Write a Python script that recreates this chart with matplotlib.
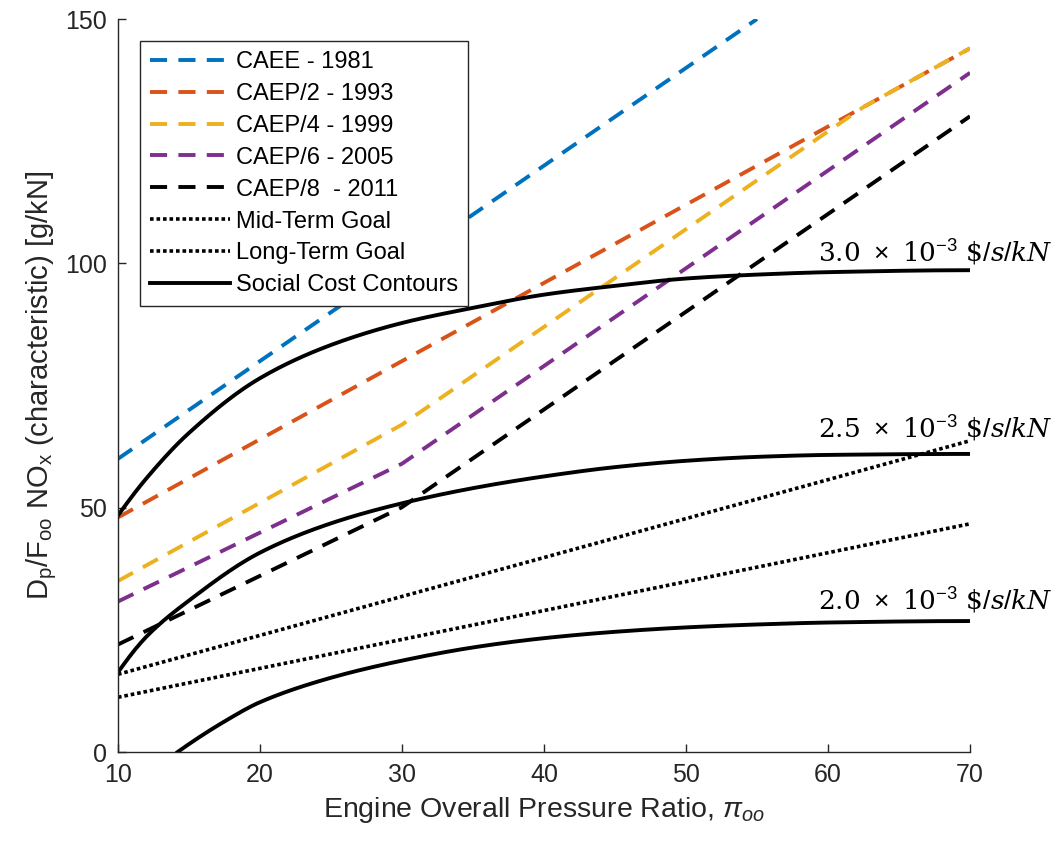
import numpy as np
import matplotlib
matplotlib.use('Agg')
import matplotlib.pyplot as plt

plt.rcParams['font.family'] = ['Liberation Sans', 'DejaVu Sans']
plt.rcParams['mathtext.fontset'] = 'custom'
plt.rcParams['mathtext.rm'] = 'Liberation Sans'
plt.rcParams['mathtext.it'] = 'Liberation Sans:italic'
plt.rcParams['mathtext.default'] = 'regular'

# ICAO NOx standard lines (piecewise linear in OPR)
CAEE_x = [10, 55]
CAEE_y = [60, 150]
CAEP2_x = [10, 70]
CAEP2_y = [48, 144]
CAEP4_x = [10, 30, 62.5, 70]
CAEP4_y = [35, 67, 132, 144]
CAEP6_x = [10, 30, 70]
CAEP6_y = [30.8, 59.0, 139.0]
CAEP8_x = [10, 30, 70]
CAEP8_y = [22.0, 50.1, 130.1]

# goals
MidGoal_x = [10, 70]
MidGoal_y = [15.9, 63.7]
LongGoal_x = [10, 70]
LongGoal_y = [11.2, 46.7]

# social cost contours
SC30_x = [10, 12, 15, 20, 25, 30, 35, 40, 45, 50, 55, 60, 70]
SC30_y = [48.4, 56.0, 65.3, 76.5, 83.3, 87.8, 90.9, 93.6, 95.4, 96.9, 97.7, 98.2, 98.6]
SC25_x = [10, 12, 15, 20, 25, 30, 35, 40, 45, 50, 55, 60, 70]
SC25_y = [16.3, 23.6, 31.0, 40.8, 46.8, 50.9, 54.0, 56.4, 58.3, 59.6, 60.4, 60.8, 61.0]
SC20_x = [14.2, 17.7, 20, 25, 30, 35, 40, 45, 50, 55, 60, 70]
SC20_y = [0.0, 6.6, 10.2, 15.2, 18.7, 21.4, 23.3, 24.6, 25.5, 26.1, 26.5, 26.8]

SC_labels = [r'$\mathrm{3.0}\ \times\ \mathrm{10}^{-3}\ \mathrm{\$}/\mathit{s}/\mathit{kN}$',
             r'$\mathrm{2.5}\ \times\ \mathrm{10}^{-3}\ \mathrm{\$}/\mathit{s}/\mathit{kN}$',
             r'$\mathrm{2.0}\ \times\ \mathrm{10}^{-3}\ \mathrm{\$}/\mathit{s}/\mathit{kN}$']
SC_label_y = [100.2, 64.3, 29.0]


def pchip(x, y, n=300):
    # monotone cubic through the contour points, for a smooth curve
    x = np.asarray(x, float)
    y = np.asarray(y, float)
    h = np.diff(x)
    d = np.diff(y) / h
    m = np.zeros_like(y)
    for k in range(1, len(x) - 1):
        if d[k - 1] * d[k] > 0:
            w1 = 2 * h[k] + h[k - 1]
            w2 = h[k] + 2 * h[k - 1]
            m[k] = (w1 + w2) / (w1 / d[k - 1] + w2 / d[k])
    # three-point end slopes
    m[0] = ((2 * h[0] + h[1]) * d[0] - h[0] * d[1]) / (h[0] + h[1])
    m[-1] = ((2 * h[-1] + h[-2]) * d[-1] - h[-1] * d[-2]) / (h[-1] + h[-2])
    if m[0] * d[0] <= 0:
        m[0] = 0
    if m[-1] * d[-1] <= 0:
        m[-1] = 0
    xs = np.linspace(x[0], x[-1], n)
    idx = np.clip(np.searchsorted(x, xs) - 1, 0, len(h) - 1)
    t = (xs - x[idx]) / h[idx]
    h00 = 2 * t**3 - 3 * t**2 + 1
    h10 = t**3 - 2 * t**2 + t
    h01 = -2 * t**3 + 3 * t**2
    h11 = t**3 - t**2
    ys = h00 * y[idx] + h10 * h[idx] * m[idx] + h01 * y[idx + 1] + h11 * h[idx] * m[idx + 1]
    return xs, ys


fig = plt.figure(figsize=(10.62, 8.46), dpi=100)
ax = fig.add_axes([0.1111, 0.1111, 0.8023, 0.8664])

dash = (4.4, 2.9)
dot = (1.0, 0.8)
lw = 2.8

ax.plot(CAEE_x, CAEE_y, color='#0072BD', lw=lw, dashes=dash, label='CAEE - 1981')
ax.plot(CAEP2_x, CAEP2_y, color='#D95319', lw=lw, dashes=dash, label='CAEP/2 - 1993')
ax.plot(CAEP4_x, CAEP4_y, color='#EDB120', lw=lw, dashes=dash, label='CAEP/4 - 1999')
ax.plot(CAEP6_x, CAEP6_y, color='#7E2F8E', lw=lw, dashes=dash, label='CAEP/6 - 2005')
ax.plot(CAEP8_x, CAEP8_y, color='black', lw=lw, dashes=dash, label='CAEP/8  - 2011')
ax.plot(MidGoal_x, MidGoal_y, color='black', lw=2.6, dashes=dot, label='Mid-Term Goal')
ax.plot(LongGoal_x, LongGoal_y, color='black', lw=2.6, dashes=dot, label='Long-Term Goal')

ax.plot(*pchip(SC30_x, SC30_y), color='black', lw=lw, label='Social Cost Contours')
ax.plot(*pchip(SC25_x, SC25_y), color='black', lw=lw)
ax.plot(*pchip(SC20_x, SC20_y), color='black', lw=lw)

for lab, yy in zip(SC_labels, SC_label_y):
    ax.text(75.85, yy, lab, ha='right', va='baseline', fontsize=19,
            math_fontfamily='dejavuserif', clip_on=False)

ax.set_xlim(10, 70)
ax.set_ylim(0, 150)
ax.set_xticks(range(10, 71, 10))
ax.set_yticks([0, 50, 100, 150])

for s in ['top', 'right']:
    ax.spines[s].set_visible(False)
for s in ['left', 'bottom']:
    ax.spines[s].set_color('#262626')
    ax.spines[s].set_linewidth(1.0)
ax.tick_params(direction='in', length=6, width=1.0, colors='#262626',
               labelsize=18, pad=8)

ax.set_xlabel(r'Engine Overall Pressure Ratio, $\it{\pi}_{oo}$', fontsize=20.5,
              color='#262626', labelpad=6)
ax.set_ylabel(r'D$_p$/F$_{oo}$ NO$_x$ (characteristic) [g/kN]', fontsize=21,
              color='#262626', labelpad=4)

leg = ax.legend(loc='upper left', bbox_to_anchor=(0.0258, 0.97), borderaxespad=0,
                fontsize=17, handlelength=3.4, handletextpad=0.25, labelspacing=0.42,
                borderpad=0.42, fancybox=False, framealpha=1)
leg.get_frame().set_edgecolor('#262626')
leg.get_frame().set_linewidth(1.0)

fig.savefig('out.png', dpi=100)
